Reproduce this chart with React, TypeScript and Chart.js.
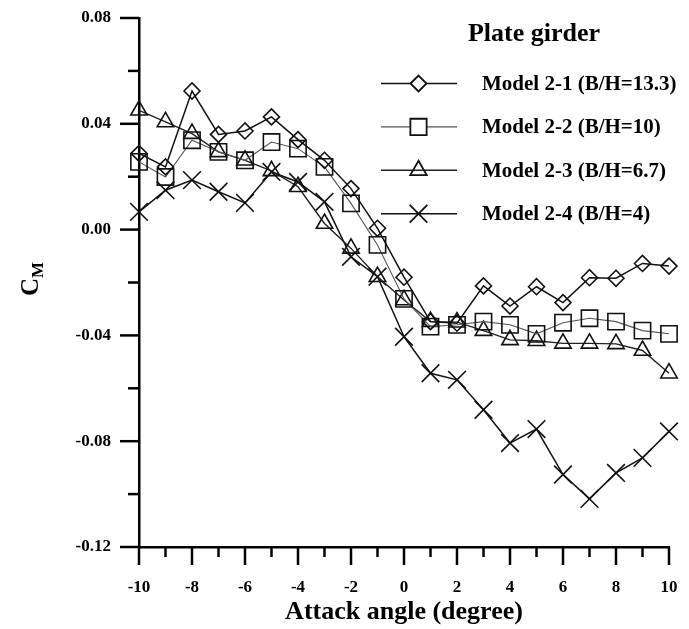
import React, { useEffect, useRef } from 'react';
import { Chart, registerables } from 'chart.js';
import { drawPoint } from 'chart.js/helpers';

Chart.register(...registerables);

const FONT = "'Liberation Serif', 'Times New Roman', serif";

const angles = [-10, -9, -8, -7, -6, -5, -4, -3, -2, -1, 0, 1, 2, 3, 4, 5, 6, 7, 8, 9, 10];

const model21 = [0.0288, 0.0237, 0.0524, 0.036, 0.0373, 0.0426, 0.034, 0.0262, 0.0155, 0.0005, -0.018, -0.0348, -0.0354, -0.0213, -0.0289, -0.0216, -0.0276, -0.0182, -0.0184, -0.0128, -0.0138];
const model22 = [0.0256, 0.0199, 0.0338, 0.0294, 0.0262, 0.0331, 0.0306, 0.0237, 0.0099, -0.0058, -0.0262, -0.0367, -0.036, -0.0348, -0.036, -0.0394, -0.0352, -0.0335, -0.0348, -0.0382, -0.0394];
const model23 = [0.0451, 0.0407, 0.0363, 0.0294, 0.0262, 0.0222, 0.0162, 0.0023, -0.0071, -0.0178, -0.0266, -0.0348, -0.035, -0.0382, -0.0417, -0.042, -0.043, -0.043, -0.0432, -0.0457, -0.0543];
const model24 = [0.0067, 0.0149, 0.0187, 0.0143, 0.0101, 0.0218, 0.018, 0.0105, -0.0103, -0.0178, -0.0405, -0.0543, -0.0568, -0.0681, -0.0807, -0.0754, -0.0926, -0.1018, -0.092, -0.0863, -0.0763];

const seriesLabels = ['Model 2-1 (B/H=13.3)', 'Model 2-2 (B/H=10)', 'Model 2-3 (B/H=6.7)', 'Model 2-4 (B/H=4)'];
const legendTitle = 'Plate girder';
const xTitle = 'Attack angle (degree)';
const yTitleMain = 'C';
const yTitleSub = 'M';

const xMin = -10;
const xMax = 10;
const yMin = -0.12;
const yMax = 0.08;
const yStep = 0.04;
const xStep = 2;

const seriesStyles = [
  { pointStyle: 'rectRot', radius: 8, color: '#111', width: 1.5, legendFill: '#fff' },
  { pointStyle: 'rect', radius: 11.5, color: '#555', width: 1.1, legendFill: '#fff' },
  { pointStyle: 'triangle', radius: 9.5, color: '#222', width: 1.4, legendFill: 'rgba(0,0,0,0)' },
  { pointStyle: 'crossRot', radius: 12.5, color: '#111', width: 1.5, legendFill: 'rgba(0,0,0,0)' },
];

const seriesValues = [model21, model22, model23, model24];

const decorPlugin = {
  id: 'decor',
  afterDraw(chart: any) {
    const { ctx, chartArea, scales } = chart;
    const xs = scales.x;
    const ys = scales.y;
    ctx.save();
    ctx.strokeStyle = '#000';
    ctx.lineWidth = 2.5;
    ctx.lineCap = 'butt';
    angles.forEach((a) => {
      const px = xs.getPixelForValue(a);
      const len = a % 2 === 0 ? 18 : 10;
      ctx.beginPath();
      ctx.moveTo(px, chartArea.bottom);
      ctx.lineTo(px, chartArea.bottom + len);
      ctx.stroke();
    });
    const nMinor = Math.round((yMax - yMin) / (yStep / 2));
    for (let k = 0; k <= nMinor; k++) {
      const v = yMin + (k * yStep) / 2;
      const py = ys.getPixelForValue(v);
      const len = k % 2 === 0 ? 19 : 11;
      ctx.beginPath();
      ctx.moveTo(chartArea.left, py);
      ctx.lineTo(chartArea.left - len, py);
      ctx.stroke();
    }

    ctx.fillStyle = '#000';
    ctx.save();
    ctx.translate(38, 279);
    ctx.rotate(-Math.PI / 2);
    ctx.font = `bold 25px ${FONT}`;
    const wC = ctx.measureText(yTitleMain).width;
    ctx.font = `bold 17px ${FONT}`;
    const wM = ctx.measureText(yTitleSub).width;
    const total = wC + wM;
    ctx.textBaseline = 'alphabetic';
    ctx.textAlign = 'left';
    ctx.font = `bold 25px ${FONT}`;
    ctx.fillText(yTitleMain, -total / 2, 0);
    ctx.font = `bold 17px ${FONT}`;
    ctx.fillText(yTitleSub, -total / 2 + wC, 5);
    ctx.restore();

    ctx.textAlign = 'center';
    ctx.textBaseline = 'middle';
    ctx.font = `bold 26px ${FONT}`;
    ctx.fillText(legendTitle, 534, 34);
    ctx.font = `bold 21px ${FONT}`;
    ctx.textAlign = 'left';
    seriesLabels.forEach((lab, i) => {
      const st = seriesStyles[i];
      const yy = 83.5 + i * 43.4;
      ctx.strokeStyle = st.color;
      ctx.lineWidth = st.width;
      ctx.beginPath();
      ctx.moveTo(381, yy);
      ctx.lineTo(457, yy);
      ctx.stroke();
      ctx.fillStyle = st.legendFill;
      ctx.strokeStyle = '#111';
      ctx.lineWidth = 1.8;
      drawPoint(ctx, { pointStyle: st.pointStyle, radius: st.radius, rotation: 0, borderWidth: 1.8 }, 418.5, yy);
      ctx.fillStyle = '#000';
      ctx.fillText(lab, 482, yy + 1);
    });
    ctx.restore();
  },
};

export default function App() {
  const canvasRef = useRef<HTMLCanvasElement | null>(null);

  useEffect(() => {
    const canvas = canvasRef.current;
    if (!canvas) return;
    const datasets = seriesValues.map((vals, i) => {
      const st = seriesStyles[i];
      return {
        label: seriesLabels[i],
        data: angles.map((a, j) => ({ x: a, y: vals[j] })),
        borderColor: st.color,
        borderWidth: st.width,
        pointStyle: st.pointStyle,
        pointRadius: st.radius,
        pointBorderWidth: 1.6,
        pointBorderColor: '#111',
        pointBackgroundColor: 'rgba(0,0,0,0)',
        backgroundColor: 'rgba(0,0,0,0)',
        tension: 0,
        fill: false,
        clip: false as any,
      };
    });

    const chart = new Chart(canvas, {
      type: 'line',
      data: { datasets },
      options: {
        animation: false,
        responsive: true,
        maintainAspectRatio: false,
        layout: { autoPadding: false, padding: { top: 18, right: 20, bottom: 0, left: 0 } },
        plugins: {
          legend: { display: false },
          tooltip: { enabled: false },
        },
        scales: {
          x: {
            type: 'linear',
            min: xMin,
            max: xMax,
            grid: { display: false, drawTicks: true, tickLength: 26 },
            border: { display: true, color: '#000', width: 2.5 },
            ticks: {
              stepSize: xStep,
              color: '#000',
              padding: 4,
              font: { family: FONT, size: 17, weight: 'bold' },
              maxRotation: 0,
              callback: (v: any) => String(v),
            },
            title: {
              display: true,
              text: xTitle,
              color: '#000',
              font: { family: FONT, size: 26, weight: 'bold' },
              padding: { top: 0, bottom: 1 },
            },
            afterFit: (s: any) => {
              s.height = 82;
            },
          },
          y: {
            type: 'linear',
            min: yMin,
            max: yMax,
            grid: { display: false, drawTicks: true, tickLength: 22 },
            border: { display: true, color: '#000', width: 2.5 },
            ticks: {
              stepSize: yStep,
              color: '#000',
              padding: 6,
              font: { family: FONT, size: 17, weight: 'bold' },
              callback: (v: any) => (Math.abs(v) < 1e-9 ? '0.00' : Number(v).toFixed(2)),
            },
            afterFit: (s: any) => {
              s.width = 139;
            },
          },
        },
      },
      plugins: [decorPlugin],
    });
    return () => chart.destroy();
  }, []);

  return (
    <div style={{ position: 'fixed', left: 0, top: 0, width: 689, height: 629, background: '#fff' }}>
      <canvas ref={canvasRef} />
    </div>
  );
}
